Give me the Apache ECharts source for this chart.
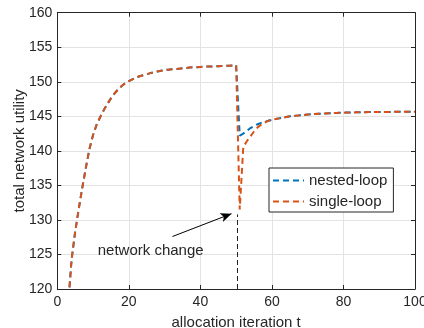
<!DOCTYPE html>
<html><head><meta charset="utf-8">
<script src="https://cdn.jsdelivr.net/npm/echarts@6/dist/echarts.min.js"></script>
<style>html,body{margin:0;padding:0;background:#fff}#c{width:424px;height:328px}</style>
</head><body><div id="c"></div>
<script>
const seriesNames = ['nested-loop', 'single-loop'];
const xTicks = [0, 20, 40, 60, 80, 100];
const yTicks = [120, 125, 130, 135, 140, 145, 150, 155, 160];
const tValues = [];
for (let t = 1; t <= 100; t++) tValues.push(t);
const nestedLoop = [
100,110,117.5,124.3,128.3,131.6,134.7,137.6,140.3,142.3,
143.8,144.9,145.9,146.8,147.6,148.3,148.9,149.4,149.8,150.1,
150.35,150.6,150.8,150.95,151.1,151.25,151.4,151.5,151.6,151.7,
151.75,151.8,151.85,151.9,151.95,152.0,152.05,152.1,152.12,152.15,
152.18,152.2,152.22,152.24,152.26,152.28,152.3,152.32,152.34,152.4,
142.2,142.5,142.9,143.3,143.6,143.85,144.05,144.2,144.35,144.5,
144.6,144.7,144.8,144.9,145.0,145.05,145.1,145.15,145.2,145.25,
145.3,145.33,145.36,145.39,145.42,145.45,145.47,145.49,145.51,145.53,
145.55,145.56,145.57,145.58,145.59,145.6,145.61,145.62,145.62,145.63,
145.63,145.64,145.64,145.65,145.65,145.65,145.66,145.66,145.66,145.67];
const singleLoop = [
100,110,117.5,124.3,128.3,131.6,134.7,137.6,140.3,142.3,
143.8,144.9,145.9,146.8,147.6,148.3,148.9,149.4,149.8,150.1,
150.35,150.6,150.8,150.95,151.1,151.25,151.4,151.5,151.6,151.7,
151.75,151.8,151.85,151.9,151.95,152.0,152.05,152.1,152.12,152.15,
152.18,152.2,152.22,152.24,152.26,152.28,152.3,152.32,152.34,152.4,
131.5,140.6,141.4,142.1,142.8,143.4,143.8,144.1,144.35,144.5,
144.6,144.7,144.8,144.9,145.0,145.05,145.1,145.15,145.2,145.25,
145.3,145.33,145.36,145.39,145.42,145.45,145.47,145.49,145.51,145.53,
145.55,145.56,145.57,145.58,145.59,145.6,145.61,145.62,145.62,145.63,
145.63,145.64,145.64,145.65,145.65,145.65,145.66,145.66,145.66,145.67];
const arrowFrom = [32.2, 127.6];
const arrowTo = [48.7, 130.9];
const changeLineX = 50.4;
const changeLineTop = 130.8;
const annotationText = 'network change';
const annotationAt = [26.1, 125.5];

const font = 'Liberation Sans, Arial, Helvetica, sans-serif';
const ink = '#262626';
const chart = echarts.init(document.getElementById('c'), null, {renderer: 'canvas'});
const axisCommon = {
  type: 'value',
  axisLine: {show: true, onZero: false, lineStyle: {color: ink, width: 1}},
  axisTick: {show: true, inside: true, length: 4, lineStyle: {color: ink}},
};
chart.setOption({
  animation: false,
  backgroundColor: '#fff',
  textStyle: {fontFamily: font, color: ink},
  grid: {left: 57.3, right: 9, top: 12.7, bottom: 39, containLabel: false, outerBoundsMode: 'none'},
  xAxis: [
    Object.assign({}, axisCommon, {
      min: xTicks[0], max: xTicks[xTicks.length - 1], interval: 20,
      name: 'allocation iteration t', nameLocation: 'middle', nameGap: 26, nameMoveOverlap: false,
      nameTextStyle: {fontSize: 15, color: ink, fontFamily: font},
      axisLabel: {fontSize: 14, color: ink, margin: 6, fontFamily: font},
      splitLine: {show: true, lineStyle: {color: '#e3e3e3', width: 1}}
    }),
    Object.assign({}, axisCommon, {
      position: 'top', min: xTicks[0], max: xTicks[xTicks.length - 1], interval: 20,
      axisLabel: {show: false}, splitLine: {show: false}
    })
  ],
  yAxis: [
    Object.assign({}, axisCommon, {
      min: yTicks[0], max: yTicks[yTicks.length - 1], interval: 5,
      name: 'total network utility', nameLocation: 'middle', nameGap: 30, nameMoveOverlap: false,
      nameTextStyle: {fontSize: 15, color: ink, fontFamily: font},
      axisLabel: {fontSize: 14, color: ink, margin: 5, fontFamily: font},
      splitLine: {show: true, lineStyle: {color: '#e3e3e3', width: 1}}
    }),
    Object.assign({}, axisCommon, {
      position: 'right', min: yTicks[0], max: yTicks[yTicks.length - 1], interval: 5,
      axisLabel: {show: false}, splitLine: {show: false}
    })
  ],
  legend: {
    data: seriesNames,
    orient: 'vertical',
    left: 269, top: 168,
    itemWidth: 31, itemHeight: 14, itemGap: 6,
    padding: [5, 6, 3, 3],
    backgroundColor: '#fff',
    borderColor: ink, borderWidth: 1, borderRadius: 0,
    itemStyle: {opacity: 0},
    textStyle: {fontSize: 15, color: ink, fontFamily: font}
  },
  series: [
    {
      name: seriesNames[0], type: 'line', xAxisIndex: 0, yAxisIndex: 0,
      data: tValues.map((t, i) => [t, nestedLoop[i]]),
      symbol: 'none', showSymbol: false, clip: true,
      lineStyle: {color: '#0072BD', width: 2, type: [6, 4]},
      itemStyle: {color: '#0072BD'}, z: 2
    },
    {
      name: seriesNames[1], type: 'line', xAxisIndex: 0, yAxisIndex: 0,
      data: tValues.map((t, i) => [t, singleLoop[i]]),
      symbol: 'none', showSymbol: false, clip: true,
      lineStyle: {color: '#D95319', width: 2, type: [6, 4]},
      itemStyle: {color: '#D95319'}, z: 3
    },
    {
      name: 'annotation', type: 'line', data: [], xAxisIndex: 0, yAxisIndex: 0, z: 4,
      markLine: {
        silent: true, animation: false,
        label: {show: false},
        data: [
          [{coord: arrowFrom, symbol: 'none', lineStyle: {color: '#000', width: 1, type: 'solid'}},
           {coord: arrowTo, symbol: 'arrow', symbolSize: [7, 11]}],
          [{coord: [changeLineX, yTicks[0]], symbol: 'none', lineStyle: {color: '#222', width: 1, type: [5, 3]}},
           {coord: [changeLineX, changeLineTop], symbol: 'none'}]
        ]
      },
      markPoint: {
        silent: true, symbol: 'circle', symbolSize: 0,
        data: [{coord: annotationAt, value: annotationText}],
        label: {show: true, position: 'inside', formatter: annotationText, fontSize: 15, color: ink, fontFamily: font}
      }
    }
  ]
});
</script></body></html>
